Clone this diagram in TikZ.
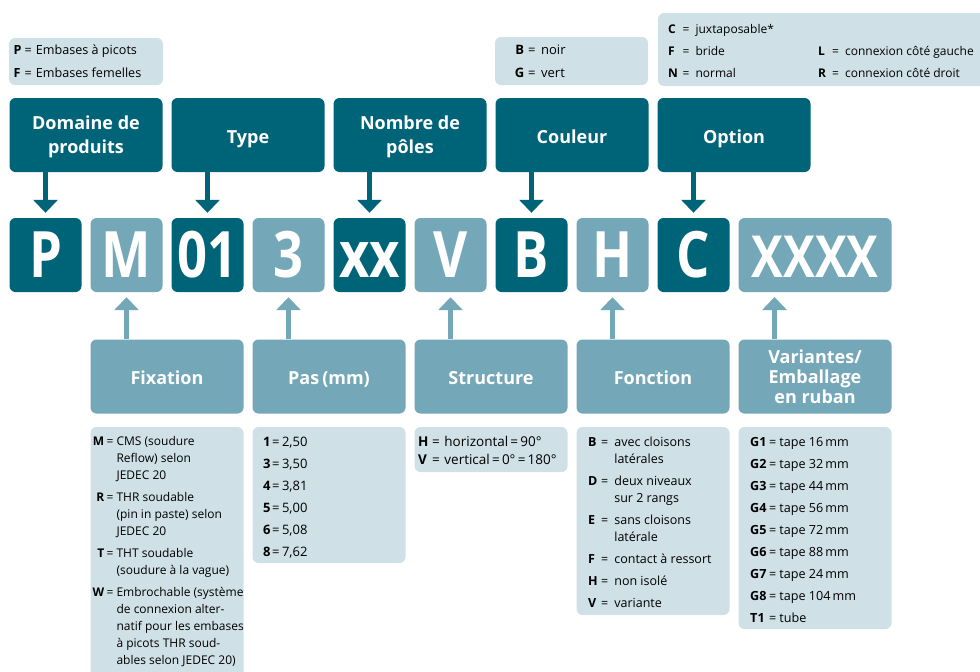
\documentclass[tikz,border=0pt]{standalone}
\usepackage{fontspec}
\setmainfont{Open Sans}
\newfontfamily\bigfont[FakeStretch=0.82]{Open Sans}
\usetikzlibrary{arrows.meta}
\definecolor{dk}{RGB}{0,100,120}
\definecolor{lt}{RGB}{116,168,184}
\definecolor{bg}{RGB}{207,224,231}
\newcommand\kr[2]{\makebox[#1][r]{\textbf{#2}}}
\newcommand\kl[2]{\makebox[#1][l]{\textbf{#2}}}
\tikzset{
  box/.style={rounded corners=6pt, inner sep=0pt, minimum height=74pt},
  dkbox/.style={box, fill=dk},
  ltbox/.style={box, fill=lt},
  wide/.style={minimum width=153pt},
  narrow/.style={minimum width=72pt},
  letter/.style={text=white, text height=45pt, text depth=0pt,
    font=\bigfont\bfseries\fontsize{64}{64}\selectfont},
  bgbox/.style={rounded corners=6pt, inner sep=0pt, fill=bg, minimum width=153pt},
  hd/.style={anchor=base, inner sep=0pt, text=white, font=\bfseries\fontsize{18}{24}\selectfont},
  txt/.style={anchor=base west, inner sep=0pt, font=\fontsize{12}{17}\selectfont},
  arrdk/.style={draw=dk, line width=5.5pt, -{Triangle[width=24pt,length=13pt]}, shorten >=5pt},
  arrlt/.style={draw=lt, line width=5.5pt, -{Triangle[width=24pt,length=13pt]}, shorten >=5pt},
}
\begin{document}
\begin{tikzpicture}[x=1pt,y=-1pt]
\useasboundingbox (0,0) rectangle (980,672);

% top legends
\node[bgbox, minimum width=154pt, minimum height=47pt] (leg1) at (86,61.5) {};
\node[bgbox, minimum height=48pt] (leg2) at (571.5,61) {};
\node[bgbox, minimum width=328pt, minimum height=73pt] (leg3) at (822,49.5) {};
\node[txt, font=\fontsize{12.6}{17}\selectfont] (leg1t) at (13.5,54.5) {\begin{tabular}[t]{@{}l@{\hspace{2.5pt}=\hspace{4pt}}l@{}}\kl{8.5pt}{P}&Embases à picots\\[5.5pt]\kl{8.5pt}{F}&Embases femelles\end{tabular}};
\node[txt, font=\fontsize{13}{17}\selectfont] (leg2t) at (513,54.5) {\begin{tabular}[t]{@{}l@{\hspace{4pt}=\hspace{5.5pt}}l@{}}\kr{11pt}{B}&noir\\[5.5pt]\kr{11pt}{G}&vert\end{tabular}};
\node[txt] (leg3a) at (668,33.5) {\begin{tabular}[t]{@{}l@{\hspace{5pt}=\hspace{6pt}}l@{}}\kl{9.5pt}{C}&juxtaposable*\\[5pt]\kl{9.5pt}{F}&bride\\[5pt]\kl{9.5pt}{N}&normal\end{tabular}};
\node[txt] (leg3b) at (818,55.5) {\begin{tabular}[t]{@{}l@{\hspace{5pt}=\hspace{6pt}}l@{}}\kl{9pt}{L}&connexion côté gauche\\[5pt]\kl{9pt}{R}&connexion côté droit\end{tabular}};

% header boxes
\node[dkbox, wide] (hdom) at (86,135) {};
\node[dkbox, wide] (htyp) at (248,135) {};
\node[dkbox, wide] (hpol) at (410,135) {};
\node[dkbox, wide] (hcou) at (572,135) {};
\node[dkbox, wide] (hopt) at (734,135) {};
\node[hd] (hdom1) at (86,129) {Domaine de};
\node[hd] (hdom2) at (86,153) {produits};
\node[hd] (htyp1) at (248,143.5) {Type};
\node[hd] (hpol1) at (410,129) {Nombre de};
\node[hd] (hpol2) at (410,153) {pôles};
\node[hd] (hcou1) at (572,143.5) {Couleur};
\node[hd] (hopt1) at (734,143.5) {Option};

% letter boxes
\node[dkbox, narrow, letter] (lP) at (45.5,255) {P};
\node[ltbox, narrow, letter] (lM) at (126.5,255) {M};
\node[dkbox, narrow, letter] (l01) at (207.5,255) {01};
\node[ltbox, narrow, letter] (l3) at (288.5,255) {3};
\node[dkbox, narrow, letter] (lxx) at (369.5,255) {xx};
\node[ltbox, narrow, letter] (lV) at (450.5,255) {V};
\node[dkbox, narrow, letter] (lB) at (531.5,255) {B};
\node[ltbox, narrow, letter] (lH) at (612.5,255) {H};
\node[dkbox, narrow, letter] (lC) at (693.5,255) {C};
\node[ltbox, wide, letter, font=\bigfont\bfseries\fontsize{58}{58}\selectfont] (lX) at (815,255) {XXXX};
\coordinate (xq) at (774.5,292);

% bottom header boxes
\node[ltbox, wide] (bfix) at (167,376.5) {};
\node[ltbox, wide] (bpas) at (329,376.5) {};
\node[ltbox, wide] (bstr) at (491,376.5) {};
\node[ltbox, wide] (bfon) at (653,376.5) {};
\node[ltbox, wide] (bvar) at (815,376.5) {};
\node[hd] (bfix1) at (167,384) {Fixation};
\node[hd] (bpas1) at (329,384) {Pas\,(mm)};
\node[hd] (bstr1) at (491,384) {Structure};
\node[hd] (bfon1) at (653,384) {Fonction};
\node[hd] (bvar1) at (815,363) {Variantes/};
\node[hd] (bvar2) at (815,383) {Emballage};
\node[hd] (bvar3) at (815,403) {en ruban};

% arrows
\draw[arrdk] (hdom.south -| lP.north) -- (lP.north);
\draw[arrdk] (htyp.south -| l01.north) -- (l01.north);
\draw[arrdk] (hpol.south -| lxx.north) -- (lxx.north);
\draw[arrdk] (hcou.south -| lB.north) -- (lB.north);
\draw[arrdk] (hopt.south -| lC.north) -- (lC.north);
\draw[arrlt] (bfix.north -| lM.south) -- (lM.south);
\draw[arrlt] (bpas.north -| l3.south) -- (l3.south);
\draw[arrlt] (bstr.north -| lV.south) -- (lV.south);
\draw[arrlt] (bfon.north -| lH.south) -- (lH.south);
\draw[arrlt] (bvar.north -| xq) -- (xq);

% detail boxes
\node[bgbox, minimum height=250pt] (dfix) at (167,552) {};
\node[bgbox, minimum height=136pt] (dpas) at (329,495) {};
\node[bgbox, minimum height=45pt] (dstr) at (491,449.5) {};
\node[bgbox, minimum height=188pt] (dfon) at (653,521) {};
\node[bgbox, minimum height=202pt] (dvar) at (815,528) {};

\node[txt] (dfixt) at (88,445) {\begin{tabular}[t]{@{}l@{\hspace{2.5pt}}l@{\hspace{3pt}}l@{}}
\kr{16pt}{M}&=&CMS (soudure\\
&&Reflow) selon\\
&&JEDEC 20\\[5.3pt]
\kr{16pt}{R}&=&THR soudable\\
&&(pin in paste) selon\\
&&JEDEC 20\\[5.3pt]
\kr{16pt}{T}&=&THT soudable\\
&&(soudure à la vague)\\[5.3pt]
\kr{16pt}{W}&=&Embrochable (système\\
&&de connexion alter-\\
&&natif pour les embases\\
&&à picots THR soud-\\
&&ables selon JEDEC 20)
\end{tabular}};

\node[txt, font=\fontsize{13}{17}\selectfont] (dpast) at (263,446) {\begin{tabular}[t]{@{}l@{\hspace{1.5pt}=\hspace{2.5pt}}l@{}}
\textbf{1}&2,50\\[5pt]
\textbf{3}&3,50\\[5pt]
\textbf{4}&3,81\\[5pt]
\textbf{5}&5,00\\[5pt]
\textbf{6}&5,08\\[5pt]
\textbf{8}&7,62
\end{tabular}};

\node[txt, font=\fontsize{13.5}{18}\selectfont] (dstrt) at (418,446) {\begin{tabular}[t]{@{}l@{\hspace{4pt}=\hspace{4.5pt}}l@{}}
\kl{10pt}{H}&horizontal\,=\,90°\\
\kl{10pt}{V}&vertical\,=\,0°\,=\,180°
\end{tabular}};

\node[txt, font=\fontsize{12.5}{17}\selectfont] (dfont) at (588,446) {\begin{tabular}[t]{@{}l@{\hspace{3pt}}l@{\hspace{6pt}}l@{}}
\kl{10pt}{B}&=&avec cloisons\\
&&latérales\\[5pt]
\kl{10pt}{D}&=&deux niveaux\\
&&sur 2 rangs\\[5pt]
\kl{10pt}{E}&=&sans cloisons\\
&&latérale\\[5pt]
\kl{10pt}{F}&=&contact à ressort\\[5pt]
\kl{10pt}{H}&=&non isolé\\[5pt]
\kl{10pt}{V}&=&variante
\end{tabular}};

\node[txt, font=\fontsize{12.6}{17}\selectfont] (dvart) at (750,446) {\begin{tabular}[t]{@{}l@{\hspace{2pt}=\hspace{3pt}}l@{}}
\kl{17pt}{G1}&tape 16\,mm\\[5pt]
\kl{17pt}{G2}&tape 32\,mm\\[5pt]
\kl{17pt}{G3}&tape 44\,mm\\[5pt]
\kl{17pt}{G4}&tape 56\,mm\\[5pt]
\kl{17pt}{G5}&tape 72\,mm\\[5pt]
\kl{17pt}{G6}&tape 88\,mm\\[5pt]
\kl{17pt}{G7}&tape 24\,mm\\[5pt]
\kl{17pt}{G8}&tape 104\,mm\\[5pt]
\kl{17pt}{T1}&tube
\end{tabular}};
\end{tikzpicture}
\end{document}
